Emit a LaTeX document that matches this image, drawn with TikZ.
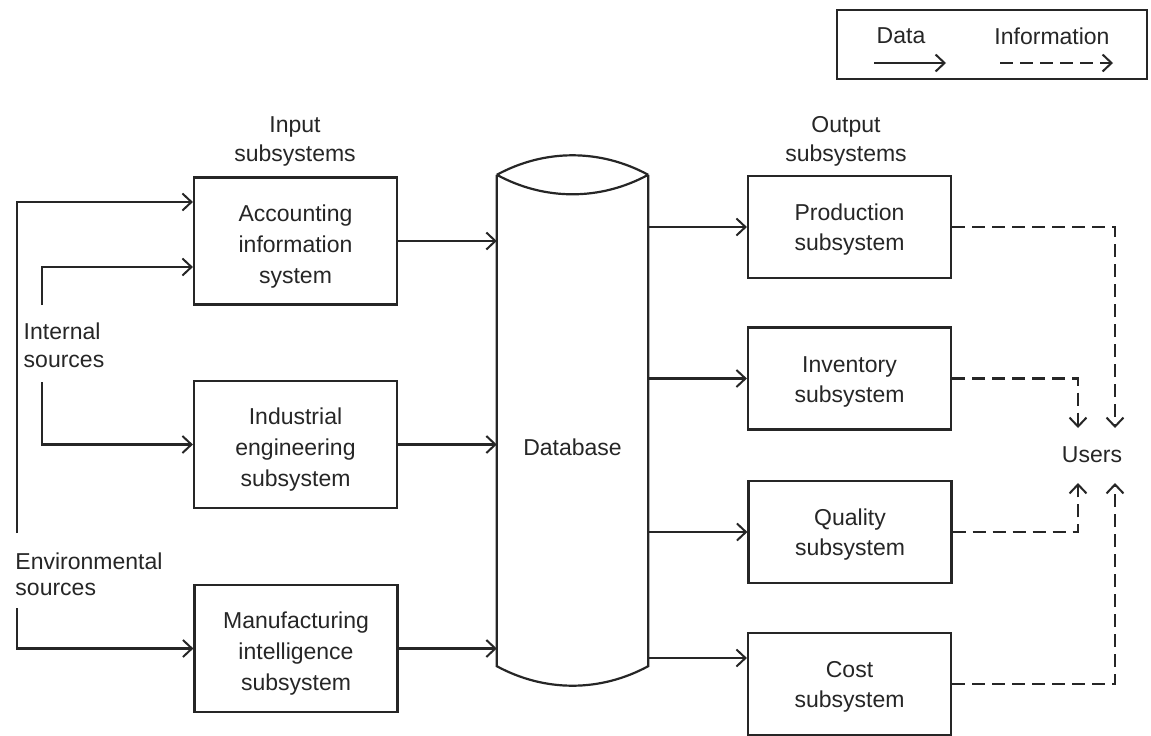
\documentclass[tikz,border=0pt]{standalone}
\usepackage{fontspec}
\setmainfont{Liberation Sans}
\usetikzlibrary{arrows.meta,calc}
\definecolor{ink}{HTML}{262626}
\begin{document}
\begin{tikzpicture}[x=1pt,y=-1pt,
  every node/.style={font=\fontsize{23}{29}\selectfont, text=ink},
  box/.style={draw=ink, line width=2.2pt, minimum width=203pt, align=center,
    inner sep=0pt},
  inbox/.style={box, minimum height=127pt, font=\fontsize{23}{31}\selectfont},
  outbox/.style={box, minimum height=102pt, font=\fontsize{23}{30}\selectfont},
  lbl/.style={align=center, inner sep=0pt},
  data/.style={draw=ink, line width=2.1pt,
    -{Straight Barb[length=9pt,width=17pt,line width=2pt]}},
  info/.style={data, dash pattern=on 13pt off 7pt},
]
\useasboundingbox (0,0) rectangle (1151,736);
\fill[white] (0,0) rectangle (1151,736);

% legend
\node[draw=ink, line width=1.7pt, minimum width=310pt, minimum height=69pt,
  inner sep=0pt] (legend) at (992,44.5) {};
\node[lbl] (ldata) at (901,36) {Data};
\node[lbl] (linfo) at (1052,36) {Information};
\coordinate (d1) at (874,63);
\coordinate (d2) at (946,63);
\coordinate (i1) at (1000,63);
\coordinate (i2) at (1113,63);
\draw[data] (d1) -- (d2);
\draw[info] (i1) -- (i2);

% column headings
\node[lbl] (inlbl) at (295,141) {Input\\subsystems};
\node[lbl] (outlbl) at (846,141) {Output\\subsystems};

% input subsystems
\node[inbox] (acc) at (295.5,241) {\rule{0pt}{27pt}Accounting\\information\\system};
\node[inbox] (ind) at (295.5,444.5) {\rule{0pt}{27pt}Industrial\\engineering\\subsystem};
\node[inbox] (man) at (296,648.5) {\rule{0pt}{27pt}Manufacturing\\intelligence\\subsystem};

% sources
\node[lbl, align=left, font=\fontsize{23}{28}\selectfont] (intsrc) at (64,345) {Internal\\sources};
\node[lbl, align=left, font=\fontsize{23}{26}\selectfont] (envsrc) at (89,574) {Environmental\\sources};

% database cylinder
\node[inner sep=0pt, minimum width=151pt, minimum height=530pt] (db) at (572.5,420) {};
\node[lbl] (dbtext) at ($(db.center)+(0,27)$) {Database};
\coordinate (tl) at ($(db.north west)+(0,20)$);
\coordinate (tr) at ($(db.north east)+(0,20)$);
\coordinate (bl) at ($(db.south west)+(0,-19)$);
\coordinate (br) at ($(db.south east)+(0,-19)$);
\draw[ink, line width=2.2pt]
  (tl) .. controls +(48,-26) and +(-48,-26) .. (tr)
  (tl) .. controls +(48,26) and +(-48,26) .. (tr)
  (tl) -- (bl) .. controls +(48,26) and +(-48,26) .. (br) -- (tr);

% output subsystems
\node[outbox] (prod) at (849.5,227) {\rule{0pt}{22pt}Production\\subsystem};
\node[outbox] (inv) at (849.5,378.5) {\rule{0pt}{22pt}Inventory\\subsystem};
\node[outbox] (qual) at (850,532) {\rule{0pt}{22pt}Quality\\subsystem};
\node[outbox] (cost) at (849.5,684) {\rule{0pt}{22pt}Cost\\subsystem};

\node[lbl] (users) at (1092,455) {Users};

% data flows from the sources
\coordinate (envup) at (17,533);
\coordinate (envdown) at (17,608);
\coordinate (intup) at (42,305);
\coordinate (intdown) at (42,382);
\draw[data] (envup) |- ($(acc.west)+(0,-39)$);
\draw[data] (intup) |- ($(acc.west)+(0,26)$);
\draw[data] (intdown) |- (ind.west);
\draw[data] (envdown) |- (man.west);

% data flows into and out of the database
\draw[data] (acc.east) -- (acc.east -| db.west);
\draw[data] (ind.east) -- (ind.east -| db.west);
\draw[data] (man.east) -- (man.east -| db.west);
\draw[data] (db.east |- prod.west) -- (prod.west);
\draw[data] (db.east |- inv.west) -- (inv.west);
\draw[data] (db.east |- qual.west) -- (qual.west);
\coordinate (costin) at ($(cost.west)+(0,-26)$);
\draw[data] (db.east |- costin) -- (costin);

% information flows to the users
\coordinate (u1) at (1115,428);
\coordinate (u2) at (1078,428);
\coordinate (u3) at (1078,483);
\coordinate (u4) at (1115,483);
\draw[info] (prod.east) -| (u1);
\draw[info] (inv.east) -| (u2);
\draw[info] (qual.east) -| (u3);
\draw[info] (cost.east) -| (u4);
\end{tikzpicture}
\end{document}
